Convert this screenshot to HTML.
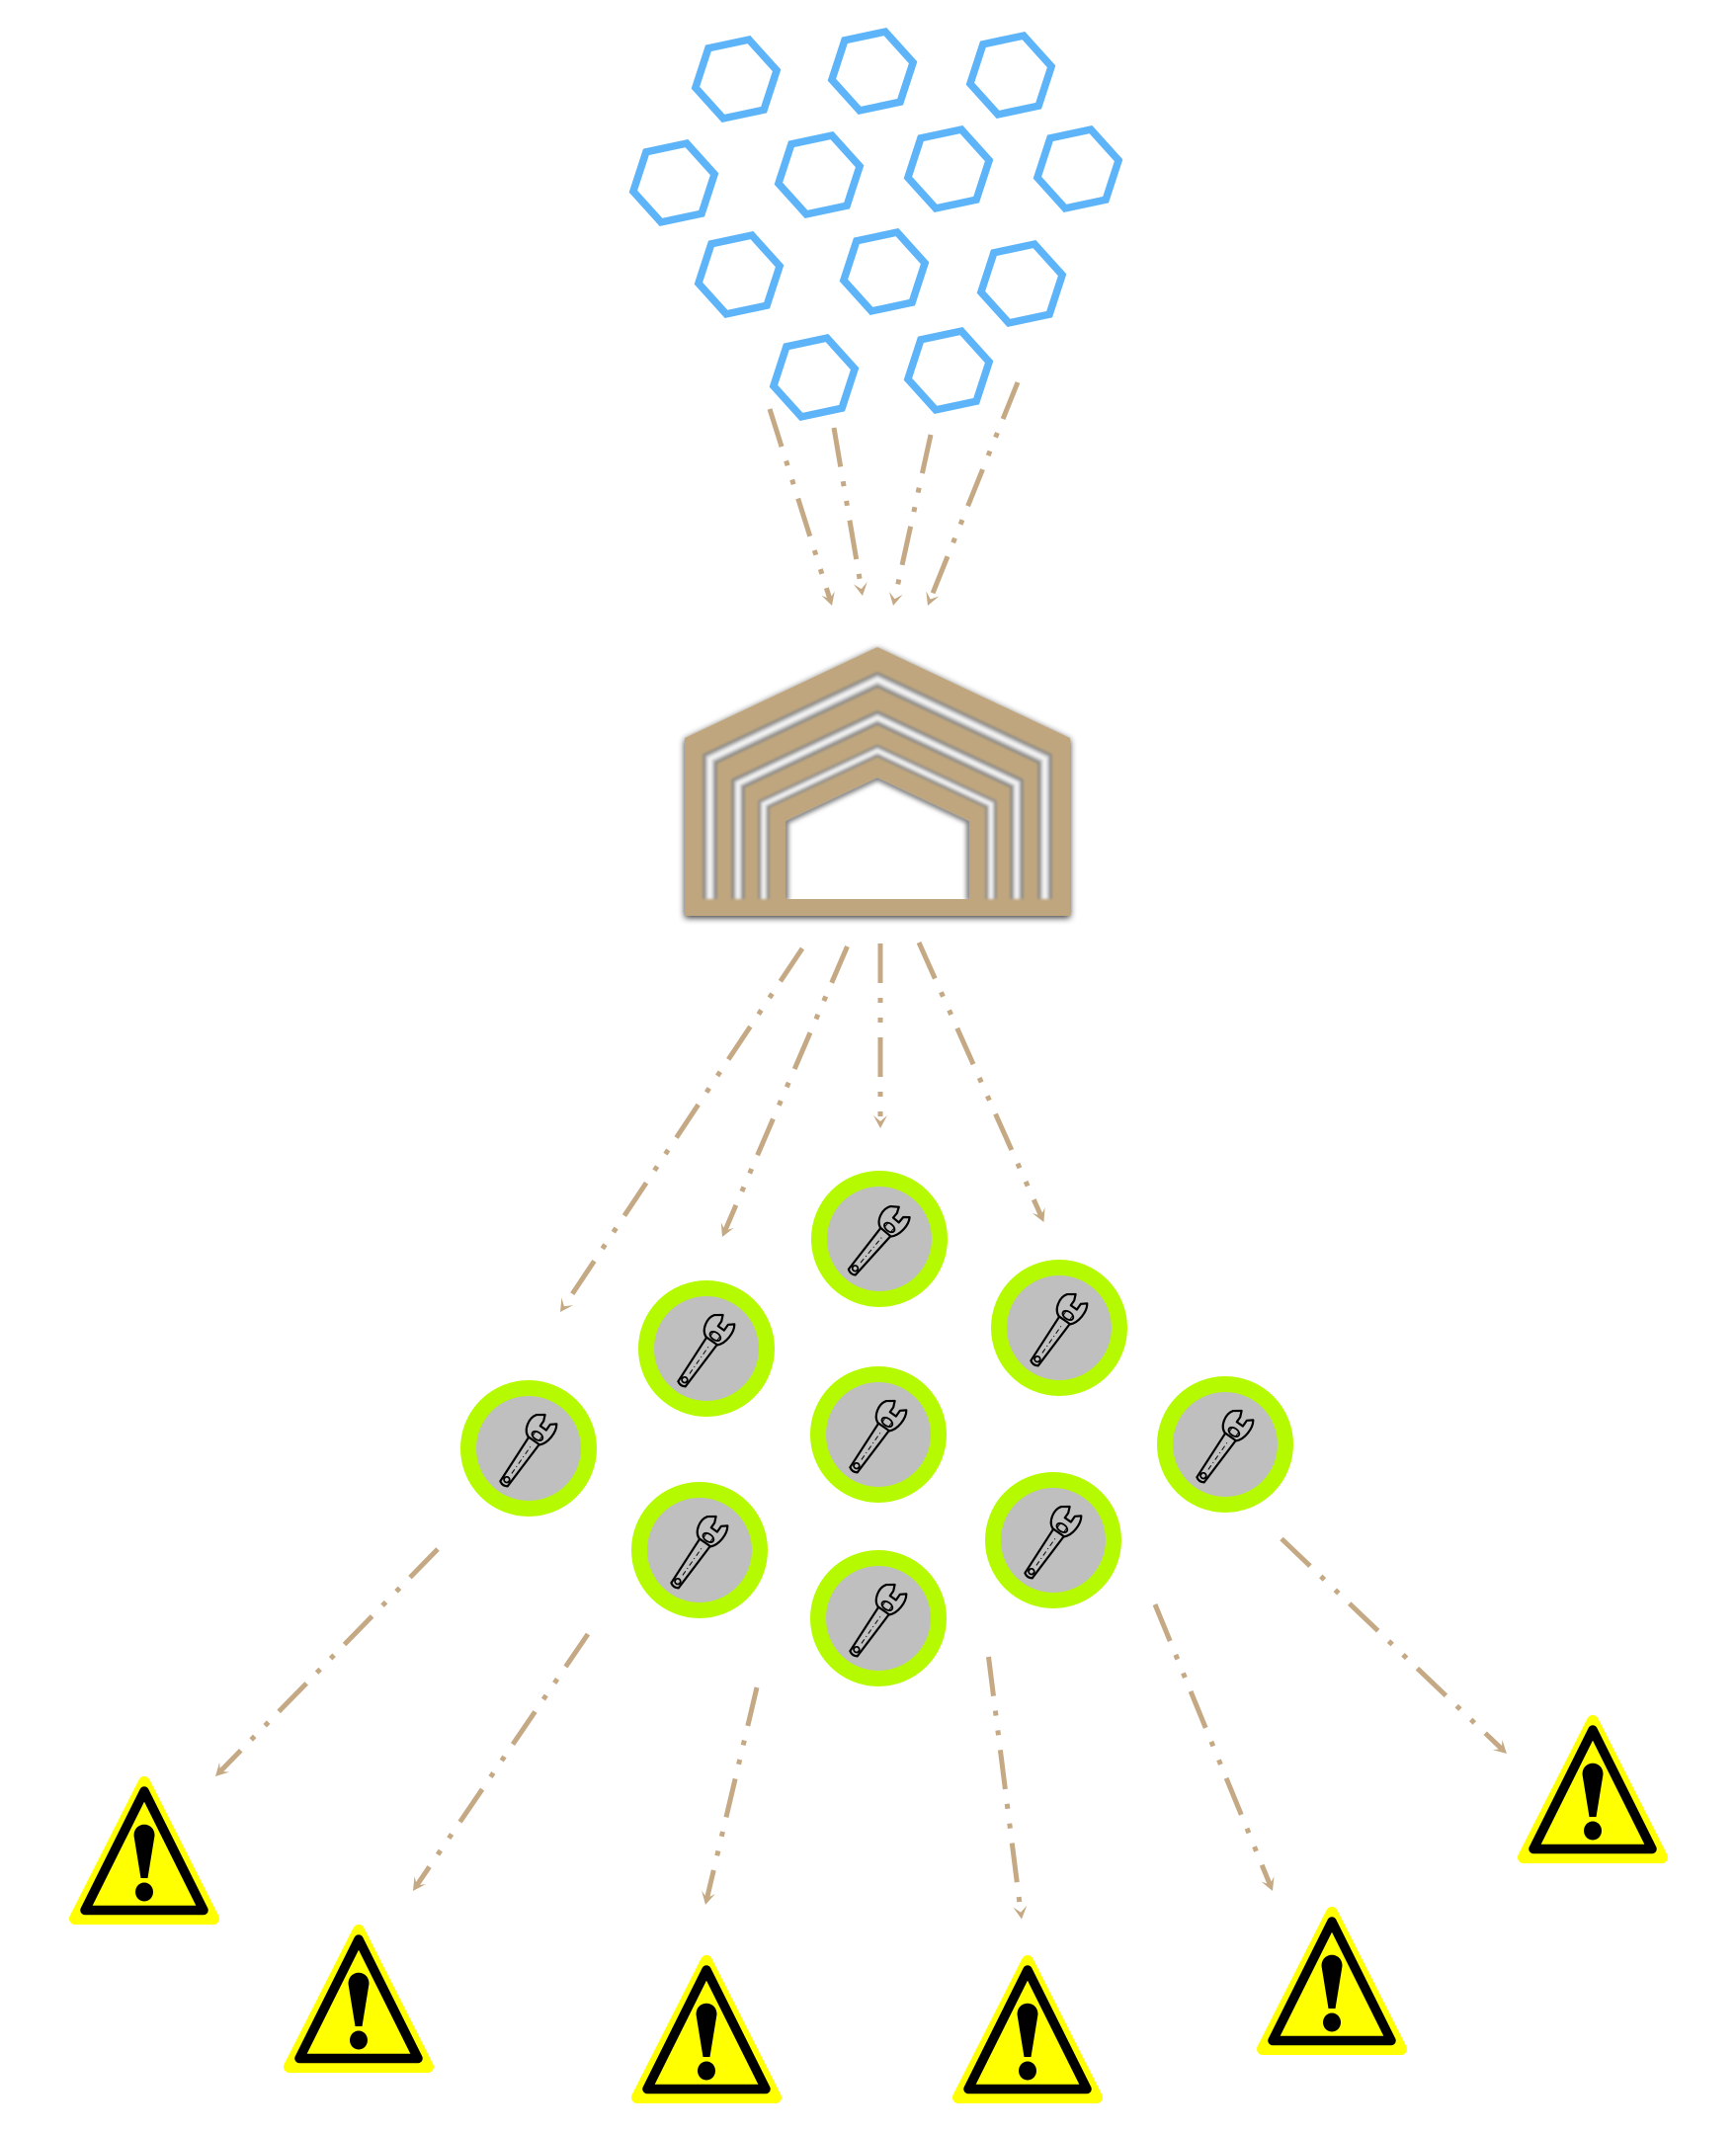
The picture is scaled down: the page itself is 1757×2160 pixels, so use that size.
<!DOCTYPE html>
<html>
<head>
<meta charset="utf-8">
<style>
  html,body{margin:0;padding:0;background:#ffffff;}
  body{width:1757px;height:2160px;overflow:hidden;font-family:"Liberation Sans",sans-serif;}
  svg{display:block;}
</style>
</head>
<body>
<svg width="1757" height="2160" viewBox="0 0 1757 2160" xmlns="http://www.w3.org/2000/svg">
  <defs>
    <marker id="ah" viewBox="-7 -8 15 16" refX="0" refY="0" markerWidth="15" markerHeight="16" markerUnits="userSpaceOnUse" orient="auto" overflow="visible">
      <path d="M7,0 L-6,-7 L0,0 L-6,7 Z" fill="#c4a984"/>
    </marker>
    <filter id="sh" x="-10%" y="-10%" width="120%" height="125%">
      <feGaussianBlur in="SourceAlpha" stdDeviation="3.5"/>
      <feOffset dx="0" dy="2" result="b"/>
      <feComponentTransfer><feFuncA type="linear" slope="0.8"/></feComponentTransfer>
      <feMerge><feMergeNode/><feMergeNode in="SourceGraphic"/></feMerge>
    </filter>
    <filter id="bl" x="-5%" y="-5%" width="110%" height="110%">
      <feGaussianBlur stdDeviation="1.3"/>
    </filter>
    <filter id="bl2" x="-10%" y="-10%" width="120%" height="120%">
      <feGaussianBlur stdDeviation="2.5"/>
    </filter>
    <clipPath id="innerClip">
      <polygon points="888,787 981,831 981,910 795,910 795,831"/>
    </clipPath>
    <g id="wrench">
      <path d="M-40,-4.5 Q-43,0 -40,4.5 L14,6.5 L14,-6.5 Z" fill="#c0c0c0" stroke="#000" stroke-width="2.2" stroke-linejoin="round"/>
      <circle cx="-35" cy="0" r="2.8" fill="#c0c0c0" stroke="#000" stroke-width="1.8"/>
      <line x1="-27" y1="0.5" x2="8" y2="0.5" stroke="#000" stroke-width="1" stroke-dasharray="5 3 1 3"/>
      <path d="M13,-7 C16,-15 29,-18 36,-13 L41,-6 L35,-3.5 L29,-3.5 L29,4 L36,4 L40,9 C33,14 19,13 13,7 Z" fill="#c0c0c0" stroke="#000" stroke-width="2.2" stroke-linejoin="round"/>
      <ellipse cx="19" cy="0" rx="3.8" ry="6" fill="#c0c0c0" stroke="#000" stroke-width="1.8"/>
      <line x1="16.5" y1="-4" x2="21.5" y2="-4" stroke="#000" stroke-width="0.9"/>
      <line x1="16.5" y1="4" x2="21.5" y2="4" stroke="#000" stroke-width="0.9"/>
    </g>
    <g id="warn">
      <polygon points="0,6 -70,144 70,144" fill="#ffff00" stroke="#ffff00" stroke-width="12" stroke-linejoin="round"/>
      <polygon points="0,15 -60,135.5 60,135.5" fill="#ffff00" stroke="#000" stroke-width="9.5" stroke-linejoin="round"/>
      <path d="M-10.5,60 C-10.5,45 10.5,45 10.5,60 L3.5,103 L-3.5,103 Z" fill="#000"/>
      <ellipse cx="0" cy="117" rx="9" ry="9.5" fill="#000"/>
    </g>
    <polygon id="hex" points="41.1,-8.7 28.1,31.2 -13.0,39.9 -41.1,8.7 -28.1,-31.2 13.0,-39.9" fill="none" stroke="#5db4f8" stroke-width="7.5" stroke-linejoin="miter"/>
  </defs>

  <!-- Hexagons -->
  <use href="#hex" transform="translate(745,80)"/>
  <use href="#hex" transform="translate(883,72)"/>
  <use href="#hex" transform="translate(1023,76)"/>
  <use href="#hex" transform="translate(682,185)"/>
  <use href="#hex" transform="translate(829,177)"/>
  <use href="#hex" transform="translate(960,171)"/>
  <use href="#hex" transform="translate(1091,171)"/>
  <use href="#hex" transform="translate(748,278)"/>
  <use href="#hex" transform="translate(895,275)"/>
  <use href="#hex" transform="translate(1034,287)"/>
  <use href="#hex" transform="translate(824,382)"/>
  <use href="#hex" transform="translate(960,375)"/>

  <!-- Connectors -->
  <g stroke="#c4a984" stroke-width="5" fill="none" stroke-dasharray="40 15 5 15 5 15" marker-end="url(#ah)">
    <line x1="779" y1="414" x2="839.9" y2="606.3"/>
    <line x1="844" y1="433" x2="871.8" y2="596.1"/>
    <line x1="942" y1="440" x2="905.5" y2="606.2"/>
    <line x1="1030" y1="387" x2="941.6" y2="606.5"/>

    <line x1="812" y1="960" x2="570.9" y2="1322.2"/>
    <line x1="857.5" y1="958" x2="733.8" y2="1245.6"/>
    <line x1="891" y1="955" x2="891" y2="1135"/>
    <line x1="930" y1="954" x2="1053.6" y2="1230.6"/>

    <line x1="443" y1="1568" x2="222.9" y2="1793"/>
    <line x1="595" y1="1654" x2="421.9" y2="1908.2"/>
    <line x1="766" y1="1708" x2="715.6" y2="1921.2"/>
    <line x1="1000.5" y1="1677" x2="1033.1" y2="1935.6"/>
    <line x1="1169" y1="1624" x2="1285.3" y2="1907.5"/>
    <line x1="1297" y1="1557.5" x2="1519.9" y2="1770.2"/>
  </g>

  <!-- House -->
  <g filter="url(#sh)">
    <polygon points="888,655 1083,747 1083,927 693,927 693,747" fill="#bfa67e"/>
  </g>
  <g filter="url(#bl)" fill="none" stroke-linejoin="miter">
    <polyline points="718.5,910 718.5,768 888,688 1057.5,768 1057.5,910" stroke="#858585" stroke-width="14"/>
    <polyline points="718.5,910 718.5,768 888,688 1057.5,768 1057.5,910" stroke="#c8c8c8" stroke-width="9"/>
    <polyline points="718.5,910 718.5,768 888,688 1057.5,768 1057.5,910" stroke="#f4f4f4" stroke-width="4"/>

    <polyline points="747,910 747,793 888,726.5 1029,793 1029,910" stroke="#858585" stroke-width="13"/>
    <polyline points="747,910 747,793 888,726.5 1029,793 1029,910" stroke="#c8c8c8" stroke-width="8"/>
    <polyline points="747,910 747,793 888,726.5 1029,793 1029,910" stroke="#f4f4f4" stroke-width="3.5"/>

    <polyline points="773,910 773,814 888,760 1003,814 1003,910" stroke="#858585" stroke-width="11"/>
    <polyline points="773,910 773,814 888,760 1003,814 1003,910" stroke="#c8c8c8" stroke-width="7"/>
    <polyline points="773,910 773,814 888,760 1003,814 1003,910" stroke="#f4f4f4" stroke-width="3"/>
  </g>
  <polygon points="888,787 981,831 981,910 795,910 795,831" fill="#ffffff"/>
  <g clip-path="url(#innerClip)">
    <polyline points="795,912 795,831 888,787 981,831 981,912" fill="none" stroke="#7a7a7a" stroke-width="6" filter="url(#bl2)"/>
  </g>

  <!-- Circles with wrenches -->
  <g fill="#bfbfbf" stroke="#b5fa00" stroke-width="16">
    <circle cx="890" cy="1254" r="61"/>
    <circle cx="715" cy="1365" r="61"/>
    <circle cx="1072" cy="1344" r="61"/>
    <circle cx="535" cy="1466" r="61"/>
    <circle cx="889" cy="1452" r="61"/>
    <circle cx="1240" cy="1462" r="61"/>
    <circle cx="708" cy="1569" r="61"/>
    <circle cx="1066" cy="1559" r="61"/>
    <circle cx="889" cy="1638" r="61"/>
  </g>
  <use href="#wrench" transform="translate(888,1257) rotate(-50)"/>
  <use href="#wrench" transform="translate(713,1368) rotate(-55)"/>
  <use href="#wrench" transform="translate(1070,1347) rotate(-55)"/>
  <use href="#wrench" transform="translate(533,1469) rotate(-55)"/>
  <use href="#wrench" transform="translate(887,1455) rotate(-55)"/>
  <use href="#wrench" transform="translate(1238,1465) rotate(-55)"/>
  <use href="#wrench" transform="translate(706,1572) rotate(-55)"/>
  <use href="#wrench" transform="translate(1064,1562) rotate(-55)"/>
  <use href="#wrench" transform="translate(887,1641) rotate(-55)"/>

  <!-- Warning triangles -->
  <use href="#warn" transform="translate(146,1798)"/>
  <use href="#warn" transform="translate(363,1948)"/>
  <use href="#warn" transform="translate(715,1979)"/>
  <use href="#warn" transform="translate(1040,1979)"/>
  <use href="#warn" transform="translate(1348,1930)"/>
  <use href="#warn" transform="translate(1612,1736)"/>
</svg>
</body>
</html>
